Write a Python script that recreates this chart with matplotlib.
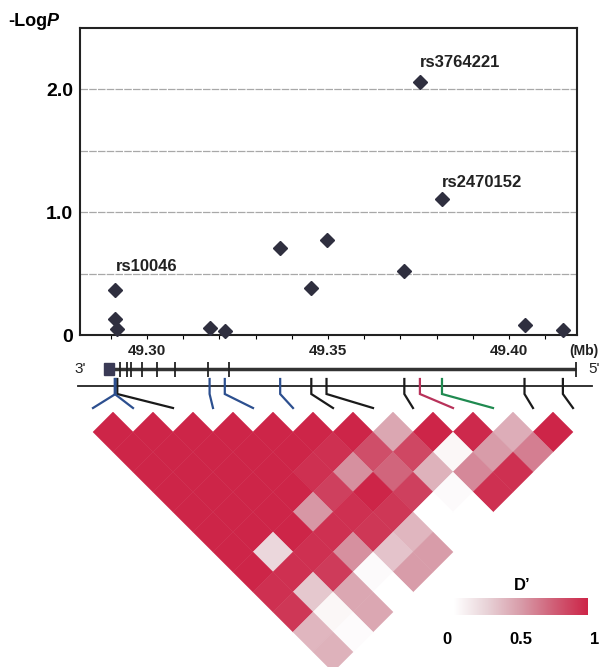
import matplotlib
matplotlib.use("Agg")
import numpy as np
import matplotlib.pyplot as plt
from matplotlib.colors import LinearSegmentedColormap
from matplotlib.patches import Polygon, Rectangle

plt.rcParams['font.family'] = ['Liberation Sans', 'DejaVu Sans']

# ---- data ----
snp_pos = [49.2913, 49.2911, 49.2918, 49.3173, 49.3215, 49.3368, 49.3454,
           49.3496, 49.3711, 49.3754, 49.3815, 49.4043, 49.4149]
neg_log_p = [0.37, 0.13, 0.05, 0.06, 0.03, 0.71, 0.38, 0.77, 0.52, 2.06,
             1.11, 0.08, 0.04]
snp_colors = ['#2c4f8f', '#2c4f8f', '#1a1a1a', '#2c4f8f', '#2c4f8f', '#2c4f8f',
              '#1a1a1a', '#1a1a1a', '#1a1a1a', '#b8325a', '#1f8a50', '#1a1a1a',
              '#1a1a1a']
label_names = ['rs10046', 'rs3764221', 'rs2470152']
label_snp = [0, 9, 10]
label_y = [0.56, 2.22, 1.24]

mb_ticks = [49.30, 49.35, 49.40]
gene_start, gene_end = 49.2881, 49.4185
box_end = 49.2909
exon_pos = [49.2925, 49.2945, 49.2956, 49.2986, 49.3028, 49.3077, 49.3169,
            49.3227, 49.4185]

# D' by distance d = j - i (row d lists i = 0 .. 12-d)
dprime_rows = [
    [1, 1, 1, 1, 1, 1, 1, 0.45, 1, 0.98, 0.42, 1],
    [1, 1, 1, 1, 1, 0.95, 0.82, 0.85, 0.05, 0.5, 0.62],
    [1, 1, 1, 1, 0.95, 0.55, 0.72, 0.4, 0.58, 0.95],
    [1, 1, 1, 1, 0.88, 1, 0.88, 0.03, 0.95],
    [1, 1, 1, 0.52, 0.95, 0.92, 0.0, 0.0],
    [1, 1, 1, 0.95, 0.92, 0.38, 0.0],
    [1, 0.22, 0.95, 0.55, 0.32, 0.5],
    [1, 0.95, 0.9, 0.03, 0.5],
    [0.95, 0.3, 0.45, 0.0],
    [0.92, 0.05, 0.45],
    [0.38, 0.02],
    [0.4],
]

cmap = LinearSegmentedColormap.from_list(
    "dp", [(0, '#ffffff'), (0.25, '#e8d2d7'), (0.5, '#d89ca9'),
           (0.75, '#d05e76'), (1, '#cd2548')])

W, H = 601, 667
fig = plt.figure(figsize=(W / 100, H / 100), dpi=100)


def px_box(x0, x1, y0, y1):
    # pixel box (top-left origin) -> figure fraction rect
    return [x0 / W, 1 - y1 / H, (x1 - x0) / W, (y1 - y0) / H]


xlim = (49.2815, 49.4188)

# ---- association plot ----
ax = fig.add_axes(px_box(80, 577, 28, 335))
ax.set_xlim(*xlim)
ax.set_ylim(0, 2.5)
ax.set_yticks([0, 1, 2])
ax.set_yticklabels(['0', '1.0', '2.0'], fontsize=14, fontweight='bold')
ax.set_yticks([0.5, 1.5], minor=True)
ax.grid(True, axis='y', which='both', color='#a8a8a8', lw=0.9, ls=(0, (6, 1)))
ax.set_axisbelow(True)
ax.tick_params(axis='y', which='both', length=0, pad=5)
ax.set_xticks(np.arange(49.29, 49.4101, 0.01))
ax.tick_params(axis='x', length=3, width=0.8, direction='out', labelbottom=False)
for s in ax.spines.values():
    s.set_linewidth(1.5)
    s.set_color('#222222')
ax.plot(snp_pos, neg_log_p, 'D', ms=7, color='#2f2f3f', clip_on=False, zorder=4)
for name, k, y in zip(label_names, label_snp, label_y):
    ax.text(snp_pos[k], y, name, fontsize=12, fontweight='bold', ha='left',
            va='center', color='#222222')

t = fig.text(8 / W, 1 - 22 / H, '-Log', fontsize=13, fontweight='bold', va='center')
ax.annotate('P', xy=(1, 0.5), xycoords=t, va='center', fontsize=13,
            fontweight='bold', fontstyle='italic')

# ---- gene structure + connectors ----
gx = fig.add_axes(px_box(80, 577, 337, 412))
gx.set_xlim(*xlim)
gx.set_ylim(412, 337)
gx.axis('off')
for m in mb_ticks:
    gx.text(m, 351, f'{m:.2f}', ha='center', va='center', fontsize=11,
            fontweight='bold', color='#222222')
tr = gx.get_yaxis_transform()
fig.text(599 / W, 1 - 351 / H, '(Mb)', ha='right', va='center', fontsize=10,
         fontweight='bold', color='#222222')
gx.text(0.0, 369, "3'", transform=tr, ha='center', va='center', fontsize=11,
        color='#222222')
gx.text(1.035, 369, "5'", transform=tr, ha='center', va='center', fontsize=11,
        color='#222222')
gx.plot([gene_start, gene_end], [369, 369], color='#333333', lw=2.5,
        solid_capstyle='butt')
gx.add_patch(Rectangle((gene_start, 363), box_end - gene_start, 12,
                       color='#3a3a55', zorder=3))
gx.vlines(exon_pos, 362, 377, color='#222222', lw=1.3)
gx.plot([-0.005, 1.03], [386, 386], transform=tr, color='#222222', lw=1.3,
        clip_on=False)

# ---- LD plot ----
n = len(snp_pos)
lx = fig.add_axes(px_box(73, 593, 412, 672))
lx.set_xlim(-0.5, n - 0.5)
lx.set_ylim(-6.5, 0)
lx.axis('off')
for d, row in enumerate(dprime_rows, start=1):
    for i, v in enumerate(row):
        j = i + d
        cx, cy = (i + j) / 2, -d / 2
        c = cmap(float(v))
        lx.add_patch(Polygon([(cx - 0.5, cy), (cx, cy + 0.5), (cx + 0.5, cy),
                              (cx, cy - 0.5)], closed=True,
                             facecolor=c, edgecolor=c, lw=0.3))

# connectors: SNP position on the gene line -> SNP slot on the LD plot
order = sorted(range(n), key=lambda k: snp_colors[k] != '#1a1a1a')
for k in order:
    disp = lx.transData.transform((k, 0))
    bx = gx.transData.inverted().transform(disp)[0]
    gx.plot([snp_pos[k], snp_pos[k], bx], [379, 394, 408], color=snp_colors[k],
            lw=1.6, clip_on=False, solid_joinstyle='miter')

# ---- D' legend ----
cb = fig.add_axes(px_box(447, 595, 598, 615))
grad = np.linspace(0, 1, 256)[None, :]
cb.imshow(grad, cmap=cmap, aspect='auto', extent=(0.05, 0.95, 0, 1))
cb.set_xlim(0, 1)
cb.set_ylim(0, 1)
cb.set_yticks([])
cb.set_xticks([0, 0.5, 1])
cb.set_xticklabels(['0', '0.5', '1'], fontsize=12, fontweight='bold')
cb.tick_params(axis='x', length=0, pad=12)
for s in cb.spines.values():
    s.set_visible(False)
fig.text(522 / W, 1 - 585 / H, "D’", fontsize=12, fontweight='bold',
         ha='center', va='center')

fig.savefig('out.png', dpi=100)
